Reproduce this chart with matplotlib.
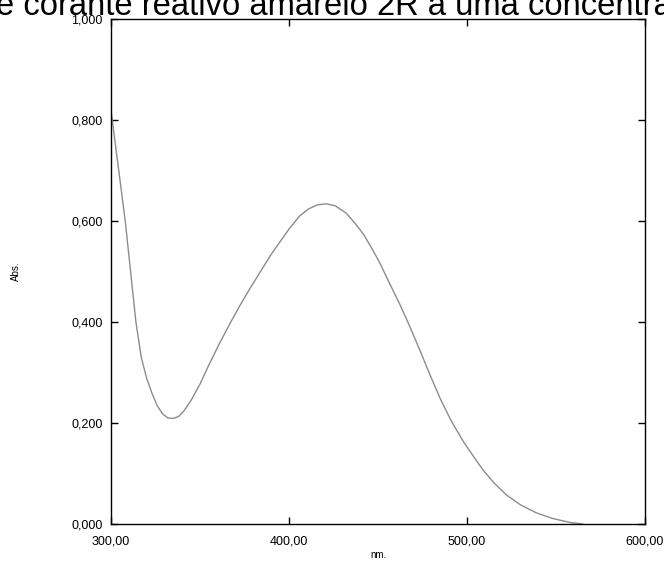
import matplotlib
matplotlib.use("Agg")
import matplotlib.pyplot as plt
from matplotlib.ticker import FuncFormatter

plt.rcParams['font.family'] = ['Liberation Sans', 'DejaVu Sans']

# absorption spectrum
nm = [300, 303, 306, 308, 311, 314, 317, 320, 323, 326, 329, 332, 335, 338,
      341, 345, 350, 355, 361, 367, 372, 378, 384, 390, 395, 400, 406, 411,
      416, 421, 426, 432, 437, 442, 447, 451, 456, 462, 468, 474, 479, 485,
      491, 498, 504, 509, 515, 522, 530, 539, 548, 558, 565]
absb = [0.820, 0.737, 0.655, 0.600, 0.500, 0.400, 0.330, 0.289, 0.259, 0.234,
        0.218, 0.210, 0.209, 0.213, 0.224, 0.245, 0.277, 0.315, 0.358, 0.398,
        0.430, 0.466, 0.500, 0.534, 0.559, 0.584, 0.610, 0.624, 0.632, 0.634,
        0.630, 0.616, 0.596, 0.573, 0.543, 0.517, 0.480, 0.437, 0.390, 0.340,
        0.297, 0.248, 0.205, 0.163, 0.132, 0.107, 0.082, 0.058, 0.038, 0.022,
        0.011, 0.003, 0.000]

xticks = [300, 400, 500, 600]
yticks = [0.0, 0.2, 0.4, 0.6, 0.8, 1.0]
title = "e corante reativo amarelo 2R a uma concentração"

fig = plt.figure(figsize=(6.64, 5.64), dpi=100)
ax = fig.add_axes([111/664, 1 - 524/564, 534/664, 505/564])

ax.plot(nm, absb, color='#8c8c8c', lw=1.0)

ax.set_xlim(300, 600)
ax.set_ylim(0, 1)
ax.set_xticks(xticks)
ax.set_yticks(yticks)
ax.xaxis.set_major_formatter(FuncFormatter(lambda v, p: f"{v:.2f}".replace('.', ',')))
ax.yaxis.set_major_formatter(FuncFormatter(lambda v, p: f"{v:.3f}".replace('.', ',')))
ax.tick_params(direction='in', length=5, width=1, labelsize=9, colors='black',
               top=True, right=True)
ax.tick_params(axis='x', pad=8)
ax.tick_params(axis='y', pad=6)
for s in ax.spines.values():
    s.set_linewidth(1)

ax.set_xlabel("nm.", fontsize=7, labelpad=2)
ax.set_ylabel("Abs.", fontsize=7, labelpad=36)

fig.text(-0.006, 1 - 15/564, title, fontsize=23.6, ha='left', va='baseline')

fig.savefig("out.png", dpi=100)
